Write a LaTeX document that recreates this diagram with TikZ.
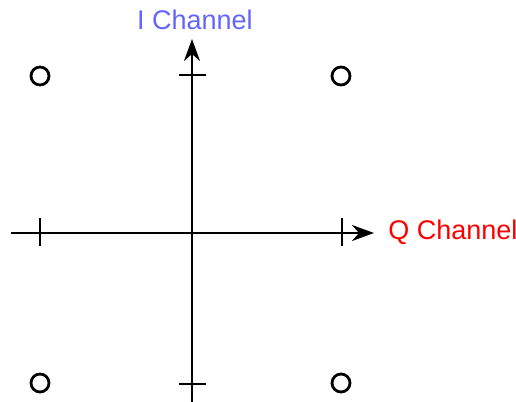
\documentclass[tikz,border=0pt]{standalone}
\usepackage{fontspec}
\setmainfont{Liberation Sans}
\usetikzlibrary{positioning,arrows.meta}
\definecolor{ichan}{HTML}{6464FF}
\definecolor{qchan}{HTML}{FF0000}
\begin{document}
\begin{tikzpicture}[
  x=0.5pt, y=-0.5pt,
  axis/.style={line width=1.2pt, -{Stealth[length=11pt, width=8pt, inset=3.5pt]}},
  tick/.style={line width=1.2pt},
  symbol/.style={circle, draw, line width=1.4pt, minimum size=9pt, inner sep=0pt},
  chan/.style={font=\fontsize{13.5}{16}\selectfont, inner sep=0pt},
]
  \useasboundingbox (0,0) rectangle (516,402);

  % axes
  \coordinate (qstart) at (11,233);
  \coordinate (qend) at (374,233);
  \coordinate (istart) at (192,402);
  \coordinate (iend) at (192,39);
  \draw[axis] (qstart) -- (qend);
  \draw[axis] (istart) -- (iend);

  % tick marks
  \foreach \tx/\nm in {40/qneg, 342/qpos} {
    \coordinate (\nm top) at (\tx,218);
    \coordinate (\nm bot) at (\tx,246);
    \draw[tick] (\nm top) -- (\nm bot);
  }
  \foreach \ty/\nm in {75/ipos, 384/ineg} {
    \coordinate (\nm left) at (179,\ty);
    \coordinate (\nm right) at (206,\ty);
    \draw[tick] (\nm left) -- (\nm right);
  }

  % constellation points
  \node[symbol] (s00) at (40,76) {};
  \node[symbol] (s01) at (341,76) {};
  \node[symbol] (s10) at (40,383) {};
  \node[symbol] (s11) at (341,383) {};

  \node[chan, text=ichan, anchor=base] (ilabel) at (195,29) {I Channel};
  \node[chan, text=qchan, anchor=west] (qlabel) at (388,232) {Q Channel};
\end{tikzpicture}
\end{document}
